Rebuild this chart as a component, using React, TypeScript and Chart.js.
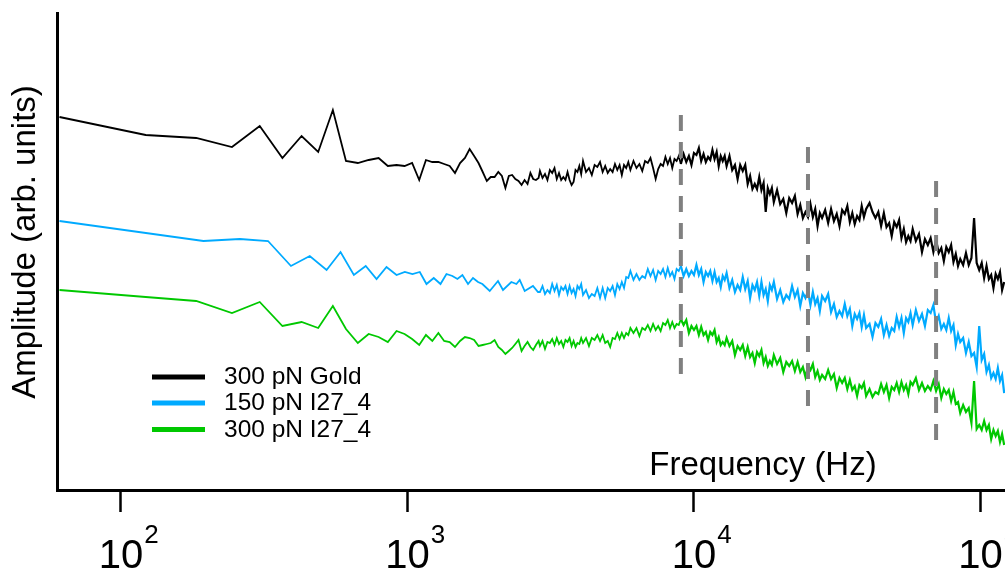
import React, { useEffect, useRef } from "react";
import { Chart, registerables } from "chart.js";

Chart.register(...registerables);

// ---------- data ----------
const SERIES_LABELS = ["300 pN Gold", "150 pN I27_4", "300 pN I27_4"];
const SERIES_COLORS = ["#000000", "#00aaff", "#00c800"];

// x ticks (decades) and their exponents
const X_TICKS = [100, 1000, 10000, 100000];
const X_TICK_EXPONENTS = ["2", "3", "4", "5"];

// dashed marker lines
const MARKER_FREQS = [9000, 25000, 70000];
const MARKER_TOPS = [375, 343, 309];
const MARKER_BOTTOMS = [108, 75, 42];

// low-frequency samples (black & green share these bins)
const LOW_FREQ_A = [
  61, 122, 183, 244, 305, 366, 427, 488, 549, 610, 671, 732, 793, 854, 916, 977,
  1038, 1099, 1160, 1221, 1282, 1343, 1404, 1465, 1526, 1587, 1648, 1709, 1770,
  1831, 1892, 1953, 2014, 2075, 2136, 2197, 2258, 2319, 2380, 2441, 2502, 2563,
  2625, 2686, 2747, 2808, 2869,
];
const BLACK_LOW = [
  373, 355, 352, 343, 364, 332, 354, 338, 380, 329, 327, 330, 332, 324, 325, 324,
  327, 310, 330, 328, 328, 326, 324, 317, 327, 332, 341, 334, 327, 318, 309, 313,
  313, 318, 314, 302, 314, 315, 311, 309, 305, 310, 306, 317, 311, 310, 312,
];
const GREEN_LOW = [
  200, 193, 189, 177, 188, 164, 168, 162, 184, 161, 147, 156, 153, 148, 159, 156,
  151, 145, 155, 149, 157, 149, 148, 143, 149, 153, 152, 150, 144, 145, 146, 147,
  150, 143, 140, 136, 139, 142, 146, 150, 139, 144, 148, 143, 140, 145, 149,
];

// low-frequency samples of the blue series
const BLUE_LOW_FREQ = [
  61, 194, 260, 326, 392, 456, 522, 584, 650, 715, 780, 845, 916, 979, 1041, 1104,
  1165, 1235, 1304, 1368, 1435, 1494, 1555, 1627, 1693, 1763, 1826, 1937, 2070,
  2155, 2304, 2400, 2465, 2566, 2742, 2855,
];
const BLUE_LOW = [
  269, 249, 251, 249, 224, 234, 220, 238, 215, 224, 211, 223, 215, 218, 216, 218,
  206, 212, 206, 216, 214, 211, 215, 206, 212, 208, 206, 199, 209, 200, 208, 206,
  210, 199, 204, 198,
];

// dense high-frequency samples, shared by the three series
const GRID_FREQ = [
  2900, 2960, 3020, 3080, 3140, 3200, 3260, 3320, 3380, 3440, 3500, 3560, 3620, 3680, 3740, 3800, 3860, 3920, 3980, 4040, 4100,
  4200, 4300, 4400, 4500, 4600, 4700, 4800, 4900, 5000, 5100, 5200, 5300, 5400, 5500, 5600, 5700, 5800, 5900, 6000,
  6150, 6300, 6450, 6600, 6750, 6900, 7050, 7200, 7350, 7500, 7650, 7800, 7950, 8100, 8250, 8400, 8550, 8700, 8850, 9000,
  9200, 9400, 9600, 9800, 10000, 10200, 10400, 10600, 10800, 11000, 11200, 11400, 11600, 11800, 12000, 12200, 12400, 12600, 12800, 13000,
  13300, 13600, 13900, 14200, 14500, 14800, 15100, 15400, 15700, 16000, 16300, 16600, 16900, 17200, 17500, 17800, 18100, 18400, 18700, 19000,
  19500, 20000, 20500, 21000, 21500, 22000, 22500, 23000, 23500, 24000, 24500, 25000, 25500, 26000, 26500, 27000, 27500, 28000,
  28700, 29400, 30100, 30800, 31500, 32200, 32900, 33600, 34300, 35000, 35700, 36400, 37100, 37800, 38500, 39200, 39900,
  41000, 42000, 43000, 44000, 45000, 46000, 47000, 48000, 49000, 50000, 51000, 52000, 53000, 54000, 55000, 56000, 57000, 58000,
  59500, 61000, 62500, 64000, 65500, 67000, 68500, 70000, 71500, 73000, 74500, 76000, 77500, 79000, 80500, 82000, 83500, 85000,
  87000, 89000, 91000, 93000, 95000, 97000, 99000, 101000, 103000, 105000, 107000, 109000, 111000, 113000, 115000, 117000, 119000, 121000,
];
const BLACK_GRID = [
  319, 312, 316, 310, 320, 317, 322, 311, 317, 310, 313, 310, 318, 310, 305, 308, 320, 318, 324, 316, 329,
  318, 322, 315, 325, 323, 328, 318, 324, 317, 321, 318, 326, 320, 325, 315, 325, 322, 328, 320,
  329, 322, 326, 319, 329, 327, 332, 322, 311, 321, 326, 324, 333, 326, 332, 322, 331, 329, 334, 326,
  336, 328, 334, 325, 337, 335, 342, 329, 336, 328, 333, 330, 340, 331, 338, 324, 334, 329, 334, 324,
  334, 320, 325, 311, 325, 319, 325, 306, 314, 301, 306, 301, 313, 300, 307, 278, 302, 296, 302, 288,
  300, 286, 291, 277, 292, 287, 294, 276, 285, 272, 278, 273, 286, 273, 281, 264, 277, 272,
  280, 267, 281, 269, 276, 264, 280, 276, 284, 268, 277, 266, 274, 270, 284, 273, 281,
  287, 278, 272, 278, 264, 277, 263, 267, 254, 268, 263, 270, 252, 261, 248, 254, 249, 261,
  249, 256, 238, 251, 245, 252, 238, 250, 237, 242, 229, 243, 238, 245, 228, 236, 224, 231,
  225, 237, 225, 232, 272, 227, 220, 227, 212, 224, 211, 215, 202, 216, 211, 218, 200, 208,
];
const BLUE_GRID = [
  198, 204, 196, 200, 197, 206, 199, 205, 195, 203, 200, 204, 196, 204, 197, 201, 194, 204, 201, 206, 195,
  200, 192, 196, 194, 202, 192, 202, 192, 202, 199, 204, 195, 206, 201, 208, 202, 213, 212, 219,
  210, 216, 210, 214, 212, 221, 214, 220, 210, 219, 216, 221, 213, 222, 214, 218, 211, 221, 219, 224,
  214, 221, 214, 219, 215, 225, 215, 221, 208, 218, 214, 219, 209, 218, 208, 212, 203, 214, 210, 217,
  202, 210, 198, 205, 200, 213, 201, 209, 192, 205, 200, 208, 194, 208, 195, 201, 189, 205, 200, 208,
  191, 200, 188, 195, 191, 204, 193, 200, 184, 197, 192, 199, 185, 198, 186, 192, 179, 194,
  189, 196, 178, 186, 173, 179, 174, 186, 174, 181, 164, 176, 171, 177, 163, 175, 162,
  166, 153, 167, 163, 171, 155, 165, 154, 162, 159, 173, 163, 172, 157, 172, 168, 177, 165,
  180, 169, 176, 164, 180, 177, 185, 167, 174, 161, 166, 160, 172, 159, 165, 145, 156, 148,
  152, 137, 148, 134, 137, 123, 164, 130, 136, 118, 125, 112, 117, 111, 122, 109, 115, 97,
];
const GREEN_GRID = [
  144, 149, 141, 148, 147, 151, 145, 152, 146, 149, 143, 150, 148, 152, 144, 149, 143, 147, 146, 152, 147,
  152, 144, 152, 150, 155, 149, 155, 147, 149, 143, 152, 151, 157, 151, 157, 152, 157, 155, 162,
  157, 162, 154, 162, 160, 165, 159, 166, 160, 164, 159, 167, 165, 170, 162, 168, 162, 166, 165, 171,
  165, 170, 157, 164, 160, 164, 155, 163, 155, 158, 150, 158, 155, 160, 148, 153, 145, 148, 145, 152,
  144, 149, 135, 144, 140, 145, 134, 143, 133, 137, 127, 138, 134, 140, 127, 133, 124, 129, 125, 135,
  126, 132, 118, 128, 124, 129, 119, 128, 118, 123, 113, 124, 120, 126, 113, 119, 110, 115,
  111, 120, 111, 116, 102, 112, 107, 112, 101, 110, 100, 104, 94, 105, 102, 107, 94,
  101, 93, 98, 96, 106, 98, 105, 92, 103, 100, 107, 98, 108, 100, 105, 96, 108, 105,
  112, 100, 107, 99, 104, 100, 109, 99, 106, 92, 101, 96, 100, 89, 98, 86, 88, 77,
  85, 78, 82, 67, 109, 61, 65, 60, 69, 60, 65, 51, 60, 54, 59, 48, 56, 45,
];

// ---------- helpers ----------
const toPoints = (xs: number[], ys: number[]) => xs.map((x, i) => ({ x, y: ys[i] }));

const FONT = "'Liberation Sans', Arial, Helvetica, sans-serif";

const overlayPlugin = {
  id: "overlay",
  afterDraw(chart: any) {
    const { ctx, scales } = chart;
    const xs = scales.x;
    ctx.save();
    ctx.fillStyle = "#000";
    ctx.textBaseline = "alphabetic";

    // decade tick labels with superscript exponents
    X_TICKS.forEach((t, i) => {
      const px = xs.getPixelForValue(t);
      ctx.font = `40px ${FONT}`;
      ctx.textAlign = "center";
      ctx.fillText("10", px, 568);
      const w = ctx.measureText("10").width;
      ctx.font = `26px ${FONT}`;
      ctx.textAlign = "left";
      ctx.fillText(X_TICK_EXPONENTS[i], px + w / 2 + 1, 543);
    });

    // x-axis title (inside plot)
    ctx.font = `33px ${FONT}`;
    ctx.textAlign = "center";
    ctx.fillText("Frequency (Hz)", 763, 475);

    // y-axis title
    ctx.save();
    ctx.translate(35, 242);
    ctx.rotate(-Math.PI / 2);
    ctx.textAlign = "center";
    ctx.fillText("Amplitude (arb. units)", 0, 0);
    ctx.restore();

    // legend
    const rows = [377, 403, 429.5];
    chart.data.datasets.slice(0, 3).forEach((ds: any, i: number) => {
      const y = rows[i];
      ctx.strokeStyle = ds.borderColor;
      ctx.lineWidth = 5;
      ctx.beginPath();
      ctx.moveTo(152, y);
      ctx.lineTo(205, y);
      ctx.stroke();
      ctx.font = `24.5px ${FONT}`;
      ctx.textAlign = "left";
      ctx.fillStyle = "#000";
      ctx.fillText(ds.label, 224, y + 7);
    });
    ctx.restore();
  },
};

export default function App() {
  const ref = useRef<HTMLCanvasElement | null>(null);

  useEffect(() => {
    if (!ref.current) return;
    const seriesData = [
      [...toPoints(LOW_FREQ_A, BLACK_LOW), ...toPoints(GRID_FREQ, BLACK_GRID)],
      [...toPoints(BLUE_LOW_FREQ, BLUE_LOW), ...toPoints(GRID_FREQ, BLUE_GRID)],
      [...toPoints(LOW_FREQ_A, GREEN_LOW), ...toPoints(GRID_FREQ, GREEN_GRID)],
    ];
    const datasets: any[] = seriesData.map((data, i) => ({
      label: SERIES_LABELS[i],
      data,
      borderColor: SERIES_COLORS[i],
      borderWidth: 1.8,
      segment: {
        borderWidth: (c: any) => (c.p0.parsed.x >= 9000 ? 2.2 : 1.8),
      },
      pointRadius: 0,
      fill: false,
      tension: 0,
      order: 1,
    }));
    MARKER_FREQS.forEach((f, i) => {
      datasets.push({
        label: "marker" + i,
        data: [
          { x: f, y: MARKER_TOPS[i] },
          { x: f, y: MARKER_BOTTOMS[i] },
        ],
        borderColor: "#808080",
        borderWidth: 4,
        borderDash: [16, 11],
        pointRadius: 0,
        fill: false,
        order: 0,
      });
    });

    const chart = new Chart(ref.current, {
      type: "line",
      data: { datasets },
      options: {
        animation: false,
        responsive: false,
        devicePixelRatio: 1,
        layout: { padding: { top: 13, right: 0, bottom: 0, left: 0 } },
        plugins: {
          legend: { display: false },
          tooltip: { enabled: false },
          title: { display: false },
        },
        scales: {
          x: {
            type: "logarithmic",
            position: "bottom",
            min: 59.8,
            max: 121800,
            afterBuildTicks: (s: any) => {
              s.ticks = X_TICKS.map((v) => ({ value: v }));
            },
            afterFit: (s: any) => {
              s.height = 81;
            },
            ticks: { display: false },
            grid: {
              display: true,
              drawOnChartArea: false,
              drawTicks: true,
              tickLength: 22,
              tickWidth: 2.5,
              tickColor: "#000",
            },
            border: { display: true, color: "#000", width: 3 },
          },
          y: {
            type: "linear",
            min: 0,
            max: 477,
            afterFit: (s: any) => {
              s.width = 57;
            },
            ticks: { display: false },
            grid: { display: false },
            border: { display: true, color: "#000", width: 3 },
          },
        },
      } as any,
      plugins: [overlayPlugin],
    });
    return () => chart.destroy();
  }, []);

  return (
    <div
      style={{
        position: "absolute",
        left: 0,
        top: 0,
        width: 1005,
        height: 571,
        background: "#fff",
        overflow: "hidden",
      }}
    >
      <canvas ref={ref} width={1005} height={571} style={{ display: "block", width: 1005, height: 571 }} />
    </div>
  );
}
